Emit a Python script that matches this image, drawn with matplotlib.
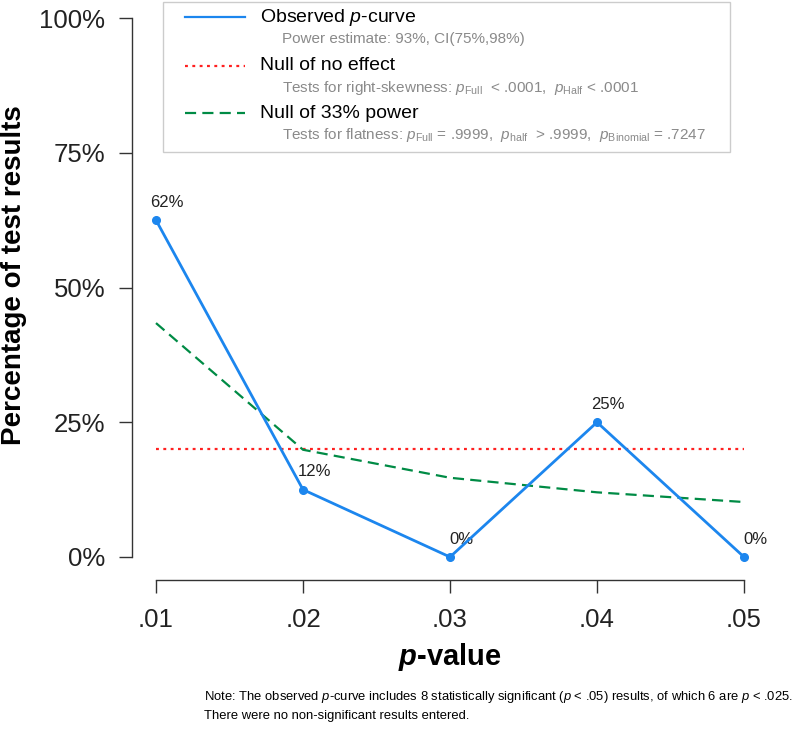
import matplotlib
matplotlib.use('Agg')
import matplotlib.pyplot as plt
from matplotlib.lines import Line2D
from matplotlib.patches import Rectangle

plt.rcParams['font.family'] = ['Liberation Sans', 'DejaVu Sans']
plt.rcParams['mathtext.fontset'] = 'custom'
plt.rcParams['mathtext.rm'] = 'Liberation Sans'
plt.rcParams['mathtext.it'] = 'Liberation Sans:italic'
plt.rcParams['mathtext.bf'] = 'Liberation Sans:bold'
plt.rcParams['mathtext.bfit'] = 'Liberation Sans:italic:bold'

# data
p_values = [0.01, 0.02, 0.03, 0.04, 0.05]
tick_labels = ['.01', '.02', '.03', '.04', '.05']
observed = [62.5, 12.5, 0, 25, 0]
null_no_effect = [20, 20, 20, 20, 20]
null_33_power = [43.4, 19.9, 14.7, 12.0, 10.2]
y_ticks = [0, 25, 50, 75, 100]

W, H = 800, 735
fig = plt.figure(figsize=(W / 100, H / 100), dpi=100)


def fx(px):
    return px / W


def fy(py):
    return 1 - py / H


# plot area: .01 -> 156px, .05 -> 744px, 100% -> 18px, 0% -> 557px
ax = fig.add_axes([fx(156), fy(557), fx(744) - fx(156), fy(18) - fy(557)])
ax.set_xlim(0.01, 0.05)
ax.set_ylim(0, 100)

blue = '#1C86EE'
red = '#FF2020'
green = '#008B45'
dotted = (0, (1.3, 2.0))
dashed = (0, (5, 2.8))

ax.plot(p_values, null_no_effect, color=red, lw=1.6, ls=dotted, clip_on=False)
ax.plot(p_values, null_33_power, color=green, lw=1.6, ls=dashed, clip_on=False)
ax.plot(p_values, observed, color=blue, lw=2, marker='o', ms=5.5, clip_on=False, zorder=5)

# percentage labels next to the observed points
for x, v in zip(p_values, observed):
    ax.text(x + 0.00075, v + 3.3, f'{round(v)}%', ha='center', va='center',
            fontsize=12, color='#222222')

ax.spines['top'].set_visible(False)
ax.spines['right'].set_visible(False)
ax.spines['left'].set_position(('outward', 17))
ax.spines['bottom'].set_position(('outward', 16.5))
ax.spines['left'].set_bounds(0, 100)
ax.spines['bottom'].set_bounds(0.01, 0.05)
for s in ('left', 'bottom'):
    ax.spines[s].set_color('#333333')
    ax.spines[s].set_linewidth(1.0)

ax.set_xticks(p_values)
ax.set_xticklabels(tick_labels)
ax.set_yticks(y_ticks)
ax.set_yticklabels([f'{t}%' for t in y_ticks])
ax.tick_params(axis='both', length=9.5, width=1.0, color='#333333', labelsize=18.5,
               labelcolor='#222222')
ax.tick_params(axis='y', pad=10)
ax.tick_params(axis='x', pad=11)

fig.text(fx(14), fy(275), 'Percentage of test results', rotation=90, ha='center',
         va='center', fontsize=20, fontweight='bold')
fig.text(fx(450), fy(657), r'$\mathbfit{p}$-value', ha='center', va='center',
         fontsize=21, fontweight='bold')

# legend box
fig.patches.append(Rectangle((fx(163), fy(152)), fx(730) - fx(163), fy(2) - fy(152),
                             transform=fig.transFigure, facecolor='white',
                             edgecolor='#CCCCCC', lw=1.0, zorder=10))
entries = [
    (blue, '-', 'Observed $p$-curve', 'Power estimate: 93%, CI(75%,98%)', 17),
    (red, dotted, 'Null of no effect',
     r'Tests for right-skewness: $p_{\mathrm{Full}}$  < .0001,  $p_{\mathrm{Half}}$ < .0001', 66),
    (green, dashed, 'Null of 33% power',
     r'Tests for flatness: $p_{\mathrm{Full}}$ = .9999,  $p_{\mathrm{half}}$  > .9999,  $p_{\mathrm{Binomial}}$ = .7247', 113),
]
for color, ls, label, sub, yy in entries:
    fig.lines.append(Line2D([fx(185), fx(245)], [fy(yy), fy(yy)], color=color, ls=ls,
                            lw=1.6, transform=fig.transFigure, zorder=11))
    fig.text(fx(260), fy(yy), label, ha='left', va='center', fontsize=14, zorder=11)
    fig.text(fx(282), fy(yy + 22), sub, ha='left', va='center', fontsize=11,
             color='#8A8A8A', zorder=11)

fig.text(fx(204), fy(697),
         'Note: The observed $p$-curve includes 8 statistically significant ($p$ < .05) '
         'results, of which 6 are $p$ < .025.', ha='left', va='center', fontsize=9.4)
fig.text(fx(204), fy(716), 'There were no non-significant results entered.',
         ha='left', va='center', fontsize=9.4)

fig.savefig('out.png', dpi=100)
